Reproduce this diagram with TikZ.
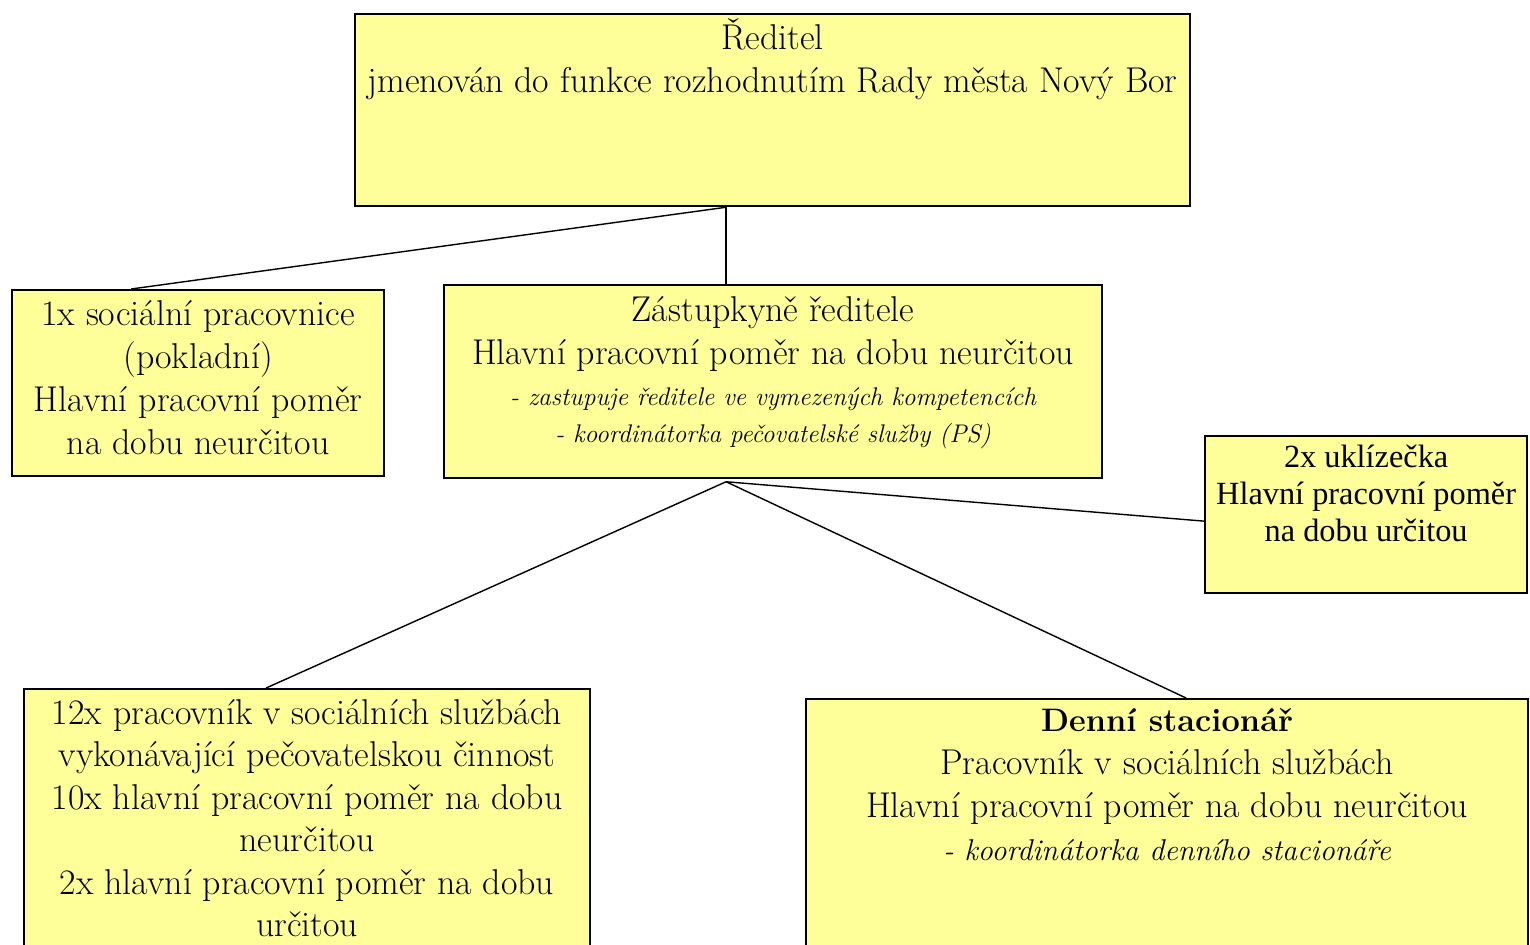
\documentclass[tikz,border=0pt]{standalone}
\usepackage{fontspec}
\newfontfamily\timesfont{Liberation Serif}
\usetikzlibrary{positioning}
\definecolor{boxyellow}{HTML}{FFFF99}
\tikzset{
  box/.style={draw=black, fill=boxyellow, line width=1.3pt, inner sep=0pt, anchor=north west},
  txt/.style={align=center, inner sep=0pt, anchor=north, font=\fontsize{20.4}{24.45}\selectfont},
  note/.style={align=center, inner sep=0pt, anchor=north, font=\fontsize{14.5}{21}\selectfont\itshape},
  link/.style={line width=0.8pt}
}

\begin{document}
\begin{tikzpicture}[x=0.02cm, y=-0.02cm]
\clip (0,0) rectangle (1530,944);

%% box corners
\coordinate(R0) at(354, 13);
\coordinate(S0) at(11, 289);
\coordinate(Z0) at(443, 284);
\coordinate(U0) at(1204, 435);
\coordinate(P0) at(23, 688);
\coordinate(D0) at(805, 698);

%% director
\node[box, minimum width=16.7cm, minimum height=3.84cm] (Reditel) at(R0) {};
\node[txt, below=0.1cm of Reditel.north] (Reditel-t) {Ředitel\\jmenován do funkce rozhodnutím Rady města Nový Bor};

%% social worker
\node[box, minimum width=7.44cm, minimum height=3.72cm] (Socialni) at(S0) {};
\node[txt, below=0.23cm of Socialni.north] (Socialni-t) {1x sociální pracovnice\\(pokladní)\\Hlavní pracovní poměr\\na dobu neurčitou};

%% deputy
\node[box, minimum width=13.16cm, minimum height=3.86cm] (Zastupce) at(Z0) {};
\node[txt, below=0.24cm of Zastupce.north] (Zastupce-t) {Zástupkyně ředitele\\Hlavní pracovní poměr na dobu neurčitou};
\node[note, below=0.32cm of Zastupce-t] (Zastupce-n) {- zastupuje ředitele ve vymezených kompetencích\\- koordinátorka pečovatelské služby (PS)};

%% cleaners
\node[box, minimum width=6.44cm, minimum height=3.14cm] (Uklid) at(U0) {};
\node[txt, font=\timesfont\fontsize{18.4}{21}\selectfont, below=0.2cm of Uklid.north] (Uklid-t) {2x uklízečka\\Hlavní pracovní poměr\\na dobu určitou};

%% carers
\node[box, minimum width=11.32cm, minimum height=6cm] (Pece) at(P0) {};
\node[txt, font=\fontsize{20.4}{24.2}\selectfont, below=0.22cm of Pece.north] (Pece-t) {12x pracovník v sociálních službách\\vykonávající pečovatelskou činnost\\10x hlavní pracovní poměr na dobu\\neurčitou\\2x hlavní pracovní poměr na dobu\\určitou};

%% day centre
\node[box, minimum width=14.44cm, minimum height=6cm] (Stacionar) at(D0) {};
\node[txt, below=0.2cm of Stacionar.north] (Stacionar-t) {\textbf{\fontsize{18.5}{24.45}\selectfont Denní stacionář}\\Pracovník v sociálních službách\\Hlavní pracovní poměr na dobu neurčitou\\\itshape\fontsize{17.1}{24.45}\selectfont - koordinátorka denního stacionáře};

%% links
\coordinate(Hub1) at([xshift=-0.93cm]Reditel.south);
\coordinate(Hub2) at([xshift=-0.94cm,yshift=-0.05cm]Zastupce.south);

\draw[link] (Hub1) -- (Hub1 |- Zastupce.north);
\draw[link] (Hub1) -- ([xshift=-1.34cm]Socialni.north);

\draw[link] (Hub2) -- ([xshift=-0.82cm]Pece.north);
\draw[link] (Hub2) -- ([xshift=0.38cm]Stacionar.north);
\draw[link] (Hub2) -- ([yshift=-0.13cm]Uklid.west);

\end{tikzpicture}
\end{document}
